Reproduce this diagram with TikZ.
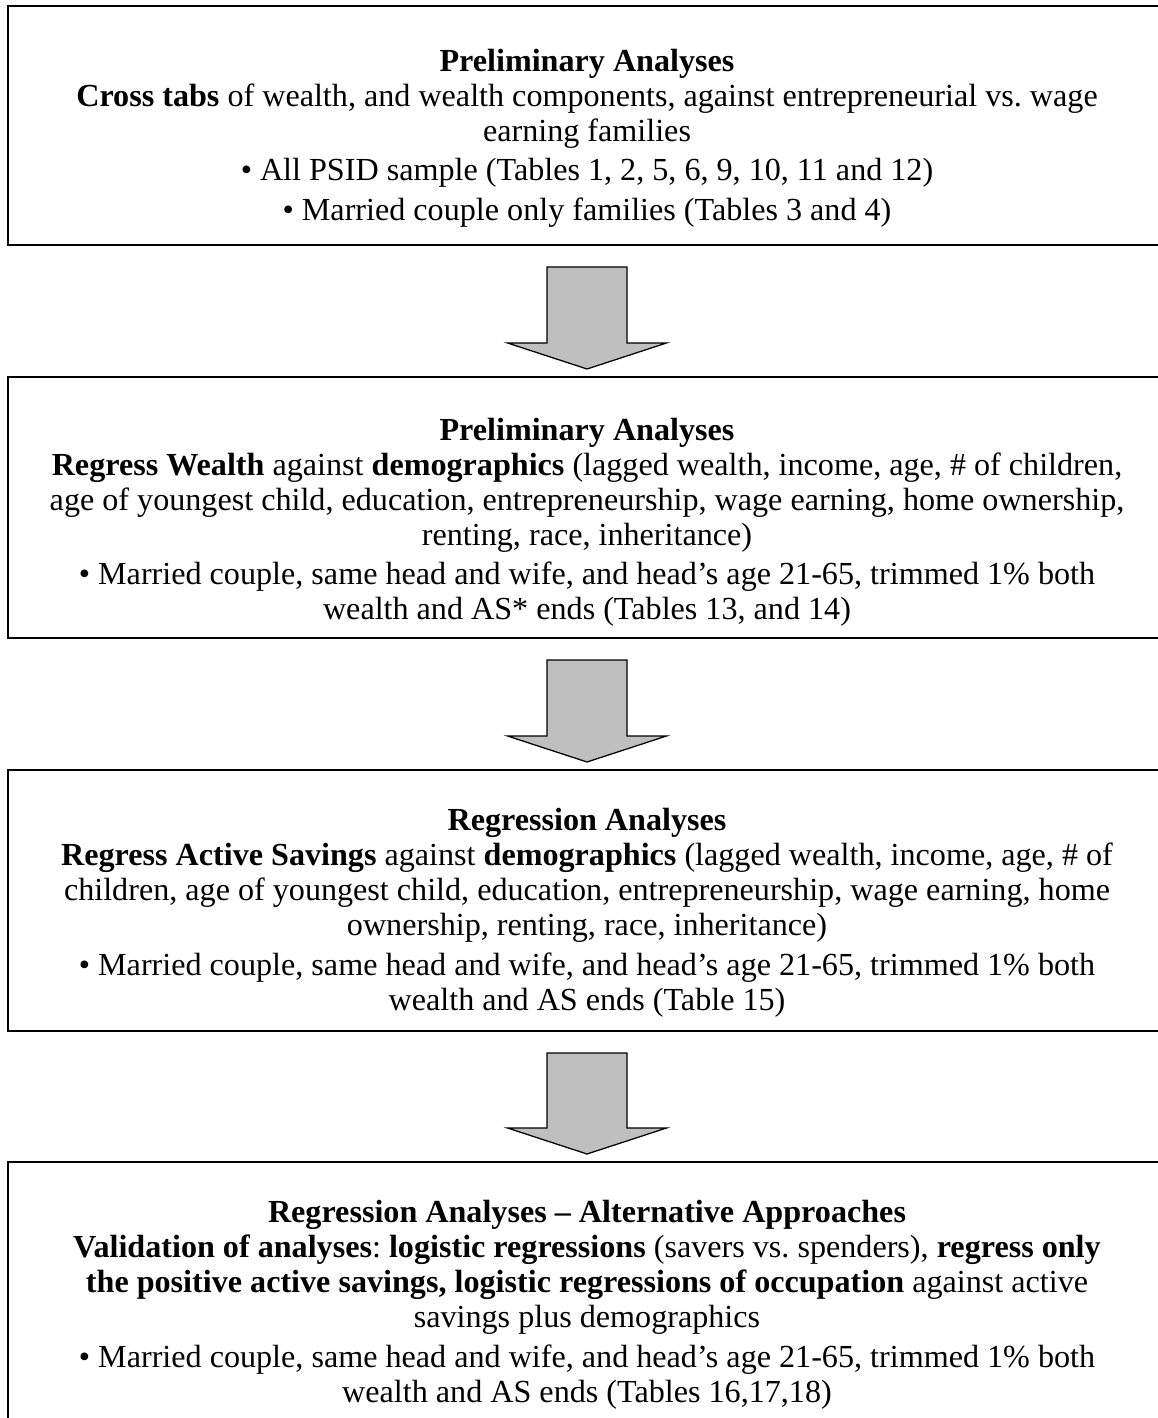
\documentclass[tikz,border=0pt]{standalone}
\usepackage{fontspec}
\setmainfont{Liberation Serif}
\usetikzlibrary{positioning}
\frenchspacing

\begin{document}
\begin{tikzpicture}[x=0.36pt,y=-0.36pt]
      \tikzset{box/.style={draw,line width=0.8pt,minimum width=416.88pt,inner sep=0pt,outer sep=0pt},
               txt/.style={align=center,inner sep=0pt,font=\fontsize{11.57}{12.6}\selectfont},
               blockarrow/.style={draw,line width=0.45pt,fill=black!25,line join=miter}}
        \useasboundingbox (0,0) rectangle (1158,1418);

        % the four boxes
        \node[box,minimum height=86.04pt] (b1) at (587,125.5) {};
        \node[box,minimum height=93.96pt,below=47.52pt of b1] (b2) {};
        \node[box,minimum height=93.96pt,below=47.52pt of b2] (b3) {};
        \node[box,minimum height=93.96pt,below=47.16pt of b3] (b4) {};

        \node[txt] (t1) at ([yshift=-4.6pt]b1.center) {\textbf{Preliminary Analyses}\\
          \textbf{Cross tabs} of wealth, and wealth components, against entrepreneurial vs. wage\\
          earning families\\[1.5pt]
          • All PSID sample (Tables 1, 2, 5, 6, 9, 10, 11 and 12)\\[1.5pt]
          • Married couple only families (Tables 3 and 4)};
        \node[txt] (t2) at ([yshift=-5.3pt]b2.center) {\textbf{Preliminary Analyses}\\
          \textbf{Regress Wealth} against \textbf{demographics} (lagged wealth, income, age, \# of children,\\
          age of youngest child, education, entrepreneurship, wage earning, home ownership,\\
          renting, race, inheritance)\\[1.5pt]
          • Married couple, same head and wife, and head’s age 21-65, trimmed 1\% both\\
          wealth and AS* ends (Tables 13, and 14)};
        \node[txt] (t3) at ([yshift=-4.4pt]b3.center) {\textbf{Regression Analyses}\\
          \textbf{Regress Active Savings} against \textbf{demographics} (lagged wealth, income, age, \# of\\
          children, age of youngest child, education, entrepreneurship, wage earning, home\\
          ownership, renting, race, inheritance)\\[1.5pt]
          • Married couple, same head and wife, and head’s age 21-65, trimmed 1\% both\\
          wealth and AS ends (Table 15)};
        \node[txt] (t4) at ([yshift=-4.4pt]b4.center) {\textbf{Regression Analyses – Alternative Approaches}\\
          \textbf{Validation of analyses}: \textbf{logistic regressions} (savers vs. spenders), \textbf{regress only}\\
          \textbf{the positive active savings, logistic regressions of occupation} against active\\
          savings plus demographics\\[1.5pt]
          • Married couple, same head and wife, and head’s age 21-65, trimmed 1\% both\\
          wealth and AS ends (Tables 16,17,18)};

        % block arrows between the boxes
        \foreach \a/\b in {b1/b2,b2/b3,b3/b4}
        \draw[blockarrow] ([shift={(-40,22)}]\a.south) -- ([shift={(40,22)}]\a.south)
          -- ([shift={(40,-34)}]\b.north) -- ([shift={(79.5,-34)}]\b.north)
          -- ([shift={(0,-8)}]\b.north) -- ([shift={(-79.5,-34)}]\b.north)
          -- ([shift={(-40,-34)}]\b.north) -- cycle;

    \end{tikzpicture}
\end{document}
